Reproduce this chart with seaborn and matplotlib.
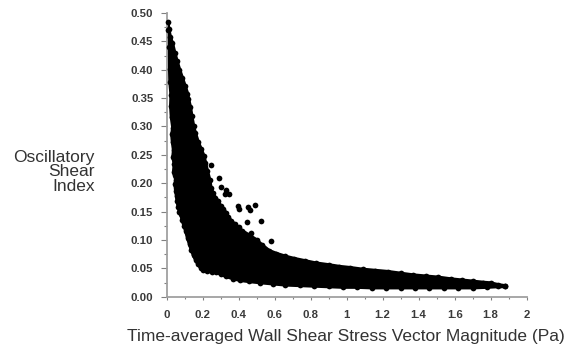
import matplotlib
matplotlib.use("Agg")
import numpy as np
import pandas as pd
import seaborn as sns
import matplotlib.pyplot as plt

# values: outer edge of the cloud, point centres
upper_x = [0.006, 0.012, 0.020, 0.032, 0.045, 0.058, 0.072, 0.088, 0.102, 0.116, 0.122, 0.132, 0.140,
           0.150, 0.160, 0.176, 0.192, 0.207, 0.216, 0.226, 0.240, 0.246, 0.258, 0.272, 0.286, 0.300,
           0.316, 0.330, 0.344, 0.358, 0.378, 0.400, 0.420, 0.460, 0.500, 0.530,
           0.570, 0.610, 0.660, 0.710, 0.770, 0.830, 0.900, 0.960, 1.020, 1.090, 1.160, 1.230, 1.300,
           1.370, 1.440, 1.510, 1.580, 1.640, 1.700, 1.760, 1.800, 1.840, 1.880]
upper_y = [0.484, 0.472, 0.458, 0.447, 0.430, 0.415, 0.400, 0.385, 0.372, 0.358, 0.348, 0.334, 0.318,
           0.300, 0.288, 0.272, 0.260, 0.248, 0.236, 0.222, 0.205, 0.192, 0.182, 0.174, 0.168, 0.160,
           0.154, 0.148, 0.140, 0.134, 0.128, 0.122, 0.116, 0.108, 0.100, 0.091,
           0.081, 0.076, 0.071, 0.067, 0.063, 0.059, 0.056, 0.053, 0.051, 0.048, 0.046, 0.044, 0.041,
           0.038, 0.036, 0.034, 0.031, 0.029, 0.027, 0.025, 0.024, 0.021, 0.019]
lower_x = [1.880, 1.840, 1.780, 1.700, 1.620, 1.540, 1.460, 1.380, 1.300, 1.220, 1.140, 1.060, 0.980,
           0.900, 0.820, 0.740, 0.660, 0.590, 0.520, 0.460, 0.410, 0.370, 0.330, 0.300, 0.275, 0.250,
           0.225, 0.205, 0.190, 0.175, 0.162, 0.150, 0.138, 0.128, 0.118, 0.108, 0.098, 0.088, 0.080,
           0.072, 0.066, 0.060, 0.056, 0.052, 0.048, 0.052, 0.046, 0.040, 0.044, 0.036, 0.040, 0.034,
           0.030, 0.036, 0.028, 0.024, 0.026, 0.020, 0.018, 0.012, 0.008]
lower_y = [0.018, 0.018, 0.017, 0.016, 0.016, 0.016, 0.016, 0.016, 0.016, 0.016, 0.016, 0.017, 0.017,
           0.018, 0.019, 0.020, 0.021, 0.023, 0.025, 0.027, 0.029, 0.032, 0.036, 0.040, 0.043, 0.044,
           0.045, 0.047, 0.051, 0.057, 0.065, 0.073, 0.083, 0.093, 0.103, 0.115, 0.125, 0.135, 0.145,
           0.150, 0.158, 0.168, 0.178, 0.186, 0.198, 0.206, 0.214, 0.220, 0.234, 0.246, 0.258, 0.272,
           0.286, 0.298, 0.316, 0.336, 0.356, 0.378, 0.402, 0.440, 0.470]
# stray points above the cloud
stray_x = [0.245, 0.290, 0.305, 0.330, 0.325, 0.345, 0.395, 0.400, 0.455, 0.465, 0.490, 0.445, 0.525, 0.580, 0.470]
stray_y = [0.232, 0.210, 0.193, 0.188, 0.181, 0.181, 0.159, 0.155, 0.158, 0.152, 0.162, 0.131, 0.133, 0.099, 0.112]

x_ticks = [0, 0.2, 0.4, 0.6, 0.8, 1, 1.2, 1.4, 1.6, 1.8, 2]
x_tick_labels = ["0", "0.2", "0.4", "0.6", "0.8", "1", "1.2", "1.4", "1.6", "1.8", "2"]
y_ticks = [0, 0.05, 0.1, 0.15, 0.2, 0.25, 0.3, 0.35, 0.4, 0.45, 0.5]
y_tick_labels = ["0.00", "0.05", "0.10", "0.15", "0.20", "0.25", "0.30", "0.35", "0.40", "0.45", "0.50"]

sns.set_style("ticks")
plt.rcParams['font.family'] = ['Liberation Sans', 'DejaVu Sans']

fig = plt.figure(figsize=(5.75, 3.51), dpi=100)
ax = fig.add_axes([166.5 / 575, 1 - 296.7 / 351, 360.2 / 575, 283.7 / 351])

# solid inside of the cloud, the thick stroke smooths the edge between points
ax.fill(upper_x + lower_x, upper_y + lower_y, facecolor="black", edgecolor="black", lw=2.6,
        joinstyle="round", zorder=2)

df = pd.DataFrame({"tawss": upper_x + lower_x + stray_x, "osi": upper_y + lower_y + stray_y})
sns.scatterplot(data=df, x="tawss", y="osi", ax=ax, color="black", s=17, linewidth=0, zorder=3, clip_on=False)

ax.set_xlim(0, 2)
ax.set_ylim(0, 0.5)
ax.set_xticks(x_ticks)
ax.set_xticklabels(x_tick_labels)
ax.set_yticks(y_ticks)
ax.set_yticklabels(y_tick_labels)
ax.set_xticks([0.1, 0.3, 0.5, 0.7, 0.9, 1.1, 1.3, 1.5, 1.7, 1.9], minor=True)
ax.set_yticks([0.025, 0.075, 0.125, 0.175, 0.225, 0.275, 0.325, 0.375, 0.425, 0.475], minor=True)

sns.despine(ax=ax)
for s in ["left", "bottom"]:
    ax.spines[s].set_color("#a0a0a0")
    ax.spines[s].set_linewidth(1.3)
ax.tick_params(axis="y", which="major", length=4.5, width=0.8, color="#808080",
               labelsize=8.2, labelcolor="#3a3a3a", pad=5)
ax.tick_params(axis="y", which="minor", length=2.5, width=0.8, color="#808080")
ax.tick_params(axis="x", which="major", length=2.5, width=0.8, color="#808080",
               labelsize=8.2, labelcolor="#3a3a3a", pad=7)
ax.tick_params(axis="x", which="minor", length=1.5, width=0.8, color="#808080")
for lab in ax.get_xticklabels() + ax.get_yticklabels():
    lab.set_fontweight("bold")

ax.set_xlabel("")
ax.set_ylabel("")
fig.text(346 / 575, 1 - 336.5 / 351, "Time-averaged Wall Shear Stress Vector Magnitude (Pa)",
         ha="center", va="center", fontsize=12.5, color="#333333")
fig.text(95 / 575, 1 - 172 / 351, "Oscillatory\nShear\nIndex", ha="right", va="center",
         fontsize=12.5, color="#333333", linespacing=0.95)

fig.savefig("out.png", dpi=100)
